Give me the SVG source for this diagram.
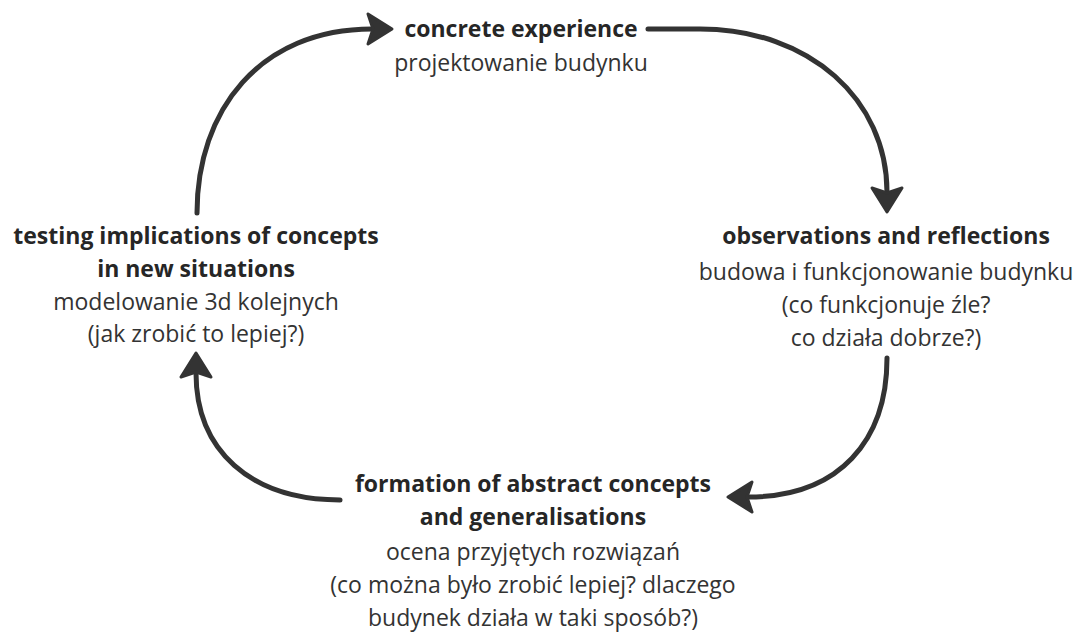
<svg xmlns="http://www.w3.org/2000/svg" width="1077" height="632" viewBox="0 0 1077 632">
<style>
.t{font-family:"Open Sans","Liberation Sans",sans-serif;fill:#333;text-anchor:middle}
.b{font-weight:bold;font-size:23px;fill:#262626}
.r{font-size:23px}
.c{fill:none;stroke:#333;stroke-width:5;stroke-linecap:round;marker-end:url(#ah)}
</style>
<defs>
<marker id="ah" markerUnits="userSpaceOnUse" markerWidth="40" markerHeight="40" viewBox="-4 -20 36 40" refX="4" refY="0" orient="auto">
<path d="M0,-15 L24,0 L0,15 L5,0 Z" fill="#333" stroke="#333" stroke-width="3" stroke-linejoin="round"/>
</marker>
</defs>
<rect width="1077" height="632" fill="#fff"/>
<g id="connectors">
<path class="c" d="M197,213 C197,110 260,29 372,29"/>
<path class="c" d="M648,29 L700,29 C810,29 887,100 887,192"/>
<path class="c" d="M887,358 C887,440 840,497 748,497"/>
<path class="c" d="M340,500 C250,500 196,450 196,373"/>
</g>
<g id="concrete-experience">
<text class="t b" x="521" y="37">concrete experience</text>
<text class="t r" x="521" y="71">projektowanie budynku</text>
</g>
<g id="observations">
<text class="t b" x="886" y="244">observations and reflections</text>
<text class="t r" x="886" y="280">budowa i funkcjonowanie budynku</text>
<text class="t r" x="886" y="313">(co funkcjonuje źle?</text>
<text class="t r" x="886" y="346">co działa dobrze?)</text>
</g>
<g id="testing">
<text class="t b" x="196" y="244">testing implications of concepts</text>
<text class="t b" x="196" y="277">in new situations</text>
<text class="t r" x="196" y="310">modelowanie 3d kolejnych</text>
<text class="t r" x="196" y="342">(jak zrobić to lepiej?)</text>
</g>
<g id="formation">
<text class="t b" x="533" y="492">formation of abstract concepts</text>
<text class="t b" x="533" y="525">and generalisations</text>
<text class="t r" x="533" y="560">ocena przyjętych rozwiązań</text>
<text class="t r" x="533" y="593">(co można było zrobić lepiej? dlaczego</text>
<text class="t r" x="533" y="626">budynek działa w taki sposób?)</text>
</g>
</svg>
